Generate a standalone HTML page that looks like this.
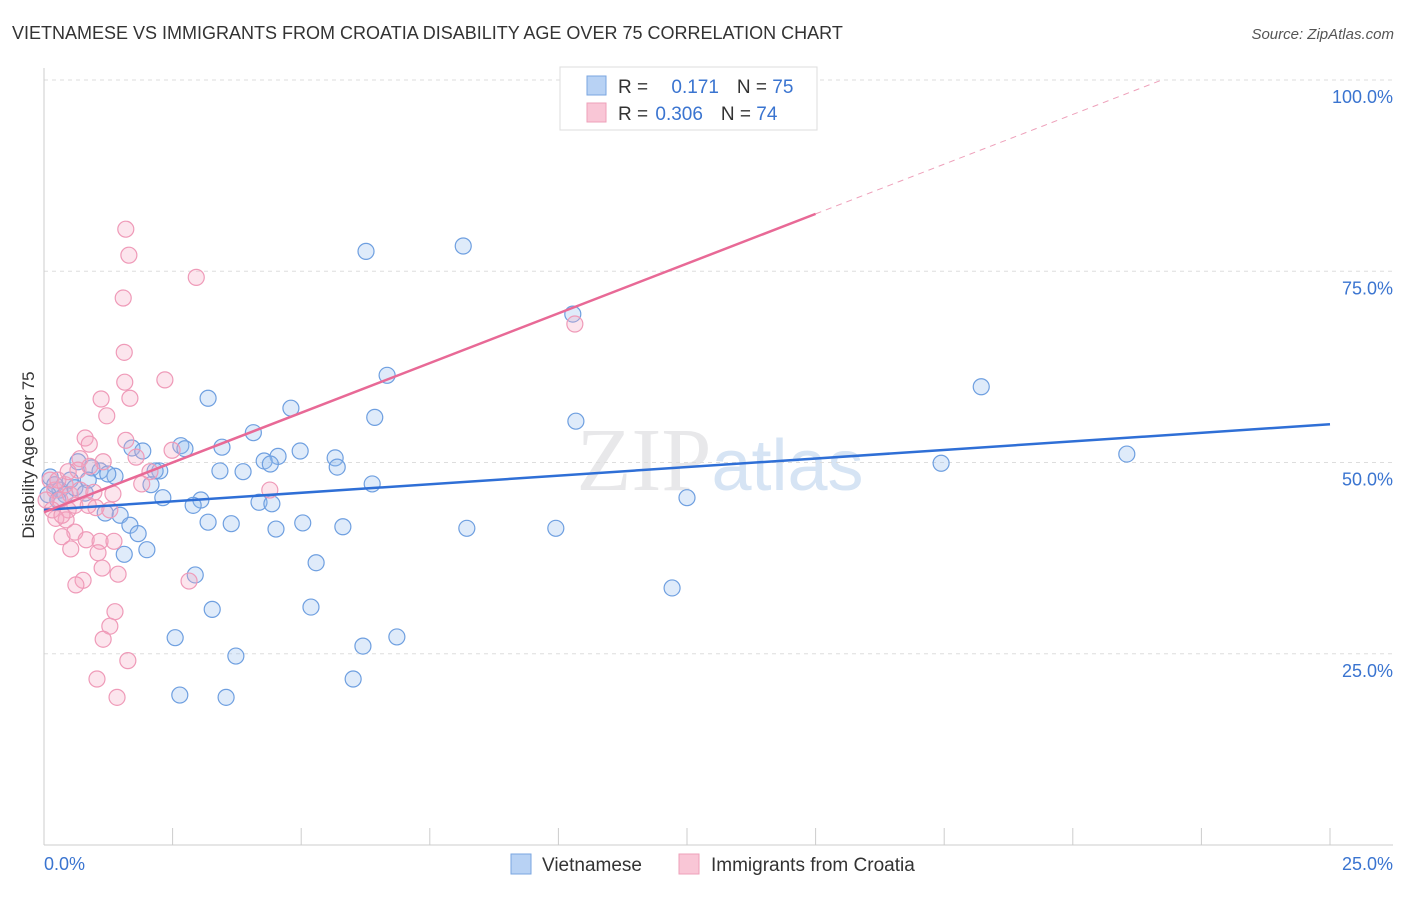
<!DOCTYPE html>
<html><head><meta charset="utf-8"><style>
body{margin:0;background:#fff;font-family:"Liberation Sans",sans-serif}
</style></head><body>
<svg id="chart" width="1406" height="892" xmlns="http://www.w3.org/2000/svg" style="font-family:'Liberation Sans',sans-serif">
<text x="12" y="39" font-size="18" fill="#333">VIETNAMESE VS IMMIGRANTS FROM CROATIA DISABILITY AGE OVER 75 CORRELATION CHART</text>
<text x="1394" y="39" font-size="15" fill="#555" text-anchor="end" font-style="italic">Source: ZipAtlas.com</text>
<text x="720" y="490" font-size="90" fill="#e8e8ea" text-anchor="middle" font-family="Liberation Serif">ZIP<tspan fill="#d6e4f4" font-family="Liberation Sans" font-size="72">atlas</tspan></text>
<g id="grid"></g>
<g id="axes"></g>
<g id="marks"></g>
<g id="lines"></g>
<text transform="translate(34,455) rotate(-90)" font-size="17" fill="#333" text-anchor="middle">Disability Age Over 75</text>
<g>
<rect x="560" y="67" width="257" height="63" fill="#fff" stroke="#ddd"/>
<rect x="587" y="76" width="19" height="19" fill="#b8d2f4" stroke="#7aa6e0"/>
<rect x="587" y="103" width="19" height="19" fill="#f9c6d6" stroke="#eea0ba"/>
<text x="618" y="93" font-size="19" fill="#333">R = <tspan fill="#3a74d0" dx="18">0.171</tspan><tspan dx="18" fill="#333">N = </tspan><tspan fill="#3a74d0">75</tspan></text>
<text x="618" y="120" font-size="19" fill="#333">R = <tspan fill="#3a74d0" dx="2">0.306</tspan><tspan dx="18" fill="#333">N = </tspan><tspan fill="#3a74d0">74</tspan></text>
</g>
<g>
<rect x="511" y="854" width="20" height="20" fill="#b8d2f4" stroke="#7aa6e0"/>
<text x="542" y="871" font-size="19" fill="#333">Vietnamese</text>
<rect x="679" y="854" width="20" height="20" fill="#f9c6d6" stroke="#eea0ba"/>
<text x="711" y="871" font-size="19" fill="#333">Immigrants from Croatia</text>
</g>
</svg>
<script>
const xTicks=[0,2.5,5,7.5,10,12.5,15,17.5,20,22.5,25];
const yTicks=[25,50,75,100];
const yTickLabels=["25.0%","50.0%","75.0%","100.0%"];
const blueX=[6.26,8.15,10.28,6.67,18.22,3.19,4.80,6.43,10.34,4.07,1.71,1.92,2.66,2.74,3.46,4.98,4.55,5.66,21.05,17.44,4.28,4.40,5.70,3.42,3.87,2.25,2.16,0.93,1.09,1.38,1.24,0.66,2.08,6.38,2.31,3.05,2.90,12.50,4.18,4.43,1.48,1.19,1.67,3.19,3.64,4.51,5.03,5.81,8.22,9.95,1.83,1.56,2.00,5.29,2.94,12.21,3.27,5.19,2.55,6.86,6.20,3.73,6.01,2.64,3.54,0.12,0.21,0.31,0.41,0.51,0.60,0.80,0.86,0.08,0.27];
const blueY=[77.6,78.3,69.4,61.4,59.9,58.4,57.1,55.9,55.4,53.9,51.9,51.5,52.2,51.8,52.0,51.5,50.8,50.6,51.1,49.9,50.2,49.8,49.4,48.9,48.8,48.9,48.9,49.3,48.9,48.2,48.5,50.1,47.1,47.2,45.4,45.1,44.4,45.4,44.8,44.6,43.1,43.4,41.8,42.2,42.0,41.3,42.1,41.6,41.4,41.4,40.7,38.0,38.6,36.9,35.3,33.6,30.8,31.1,27.1,27.2,26.0,24.7,21.7,19.6,19.3,48.1,47.1,46.4,45.8,47.7,46.7,46.0,47.7,45.8,45.1];
const pinkX=[1.59,1.65,2.96,1.54,10.32,1.56,2.35,1.57,1.11,1.67,1.22,0.80,0.88,1.59,2.49,0.70,1.15,1.79,0.66,0.89,2.06,1.90,1.34,4.39,1.01,1.28,0.47,0.43,0.23,0.60,0.82,0.35,1.09,1.36,0.52,1.05,1.13,1.44,0.76,0.62,2.82,1.38,1.28,1.15,1.63,1.03,1.42,0.12,0.21,0.31,0.41,0.51,0.60,0.16,0.35,0.70,0.04,0.27,0.47,0.86,0.97];
const pinkY=[80.5,77.1,74.2,71.5,68.1,64.4,60.8,60.5,58.3,58.4,56.1,53.2,52.4,52.9,51.6,50.5,50.1,50.7,49.0,49.5,48.8,47.2,45.9,46.4,44.1,43.8,43.8,42.5,42.7,40.9,39.9,40.3,39.7,39.7,38.7,38.2,36.2,35.4,34.6,34.0,34.5,30.5,28.6,26.9,24.1,21.7,19.3,47.7,46.4,45.1,47.1,45.8,44.4,43.8,43.1,46.4,45.1,47.7,48.8,44.4,46.1];
const blueTrend=[43.8,55.0];
const pinkTrend=[43.5,2.6];
const NS="http://www.w3.org/2000/svg";
const X=v=>44+v/25*1286, Y=v=>845-v/100*765;
function mk(t,a,p){const e=document.createElementNS(NS,t);for(const k in a)e.setAttribute(k,a[k]);p.appendChild(e);return e;}
const grid=document.getElementById('grid'),axes=document.getElementById('axes'),marks=document.getElementById('marks'),lines=document.getElementById('lines');
yTicks.forEach((t,i)=>{
 const l=mk('line',{x1:44,x2:1393,y1:Y(t),y2:Y(t),stroke:'#ddd','stroke-dasharray':'4,4'},grid);
 
 
 const tx=mk('text',{x:1393,y:Y(t)+23,'font-size':18,fill:'#3a74d0','text-anchor':'end'},axes);
 tx.textContent=yTickLabels[i];
 
 
});
mk('line',{x1:44,x2:44,y1:68,y2:845,stroke:'#ccc'},axes);
mk('line',{x1:44,x2:1393,y1:845,y2:845,stroke:'#ccc'},axes);
xTicks.forEach(t=>{const l=mk('line',{x1:X(t),x2:X(t),y1:828,y2:845,stroke:'#ccc'},axes);
 
 });
const a0=mk('text',{x:44,y:870,'font-size':18,fill:'#3a74d0'},axes);a0.textContent='0.0%';
const a1=mk('text',{x:1393,y:870,'font-size':18,fill:'#3a74d0','text-anchor':'end'},axes);a1.textContent='25.0%';
function pts(xs,ys,fill,stroke,name){xs.forEach((x,i)=>{const c=mk('circle',{cx:X(x),cy:Y(ys[i]),r:8,fill:fill,stroke:stroke,'stroke-width':1.2},marks);
 
 });}
pts(blueX,blueY,'rgba(150,190,240,0.3)','#6e9fe0','vietnamese-point');
pts(pinkX,pinkY,'rgba(245,170,195,0.3)','#ef9ab8','croatia-point');
const bl=mk('line',{x1:X(0),y1:Y(blueTrend[0]),x2:X(25),y2:Y(blueTrend[1]),stroke:'#2f6fd6','stroke-width':2.5},lines);


const pe=15, pd=(100-pinkTrend[0])/pinkTrend[1];
const pl=mk('line',{x1:X(0),y1:Y(pinkTrend[0]),x2:X(pe),y2:Y(pinkTrend[0]+pinkTrend[1]*pe),stroke:'#e86996','stroke-width':2.5},lines);


const pdl=mk('line',{x1:X(pe),y1:Y(pinkTrend[0]+pinkTrend[1]*pe),x2:X(pd),y2:Y(100),stroke:'#eea0ba','stroke-width':1,'stroke-dasharray':'6,5'},lines);


</script>
</body></html>
